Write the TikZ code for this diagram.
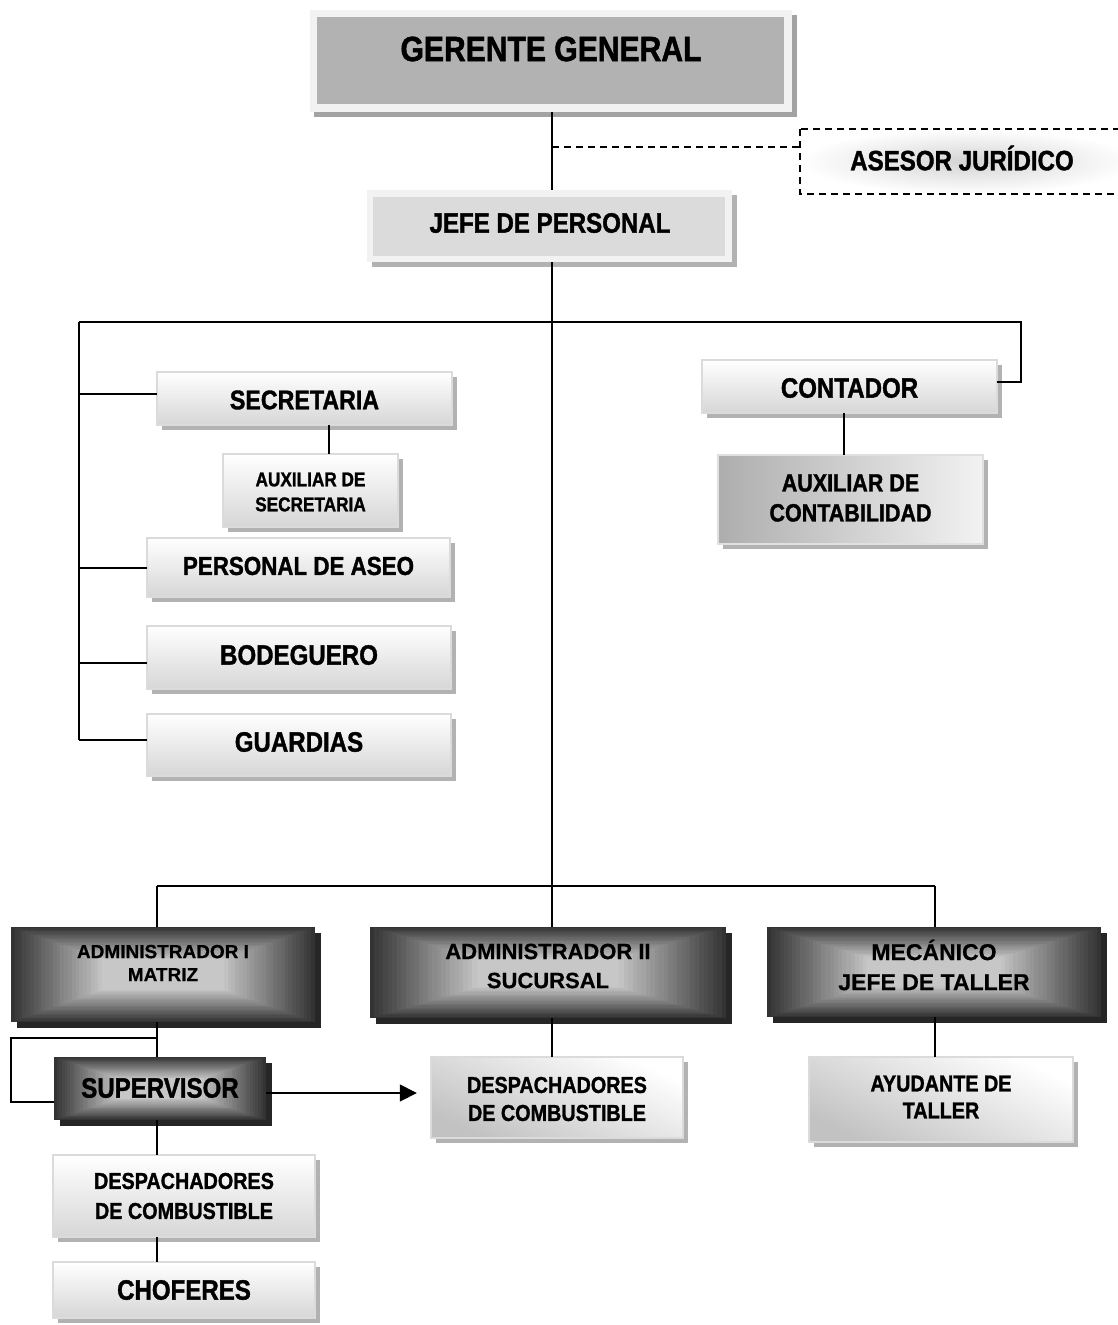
\documentclass[tikz,border=0pt]{standalone}
\usepackage{fontspec}
\newfontfamily\cf{Liberation Sans}[FakeStretch=0.86,BoldFeatures={FakeBold=1.3}]
\newfontfamily\af{Liberation Sans}[BoldFeatures={FakeBold=0.6}]
\usetikzlibrary{arrows.meta,calc}
\newcommand\fc[2]{\cf\bfseries\fontsize{#1}{#2}\selectfont}
\newcommand\fa[2]{\af\bfseries\fontsize{#1}{#2}\selectfont}
\tikzset{
  conn/.style={line width=1.6pt, black},
  dconn/.style={line width=1.6pt, draw=black, dash pattern=on 7pt off 5pt},
  shadowc/.style={fill=black!30},
  dshadowc/.style={fill=black!85},
  lightA/.style={top color=white, bottom color=black!16, draw=black!14, line width=1.5pt},
  lightB/.style={left color=black!32, right color=black!5, draw=black!12, line width=1.5pt},
  lightC/.style={top color=white, bottom color=black!24, shading angle=-25, draw=black!14, line width=1.5pt},
  boxnode/.style={draw=none, inner sep=0pt, rectangle},
  lbl/.style={inner sep=0pt, align=center, text=black},
}
% light box: style, name, x1, y1, x2, y2, text y, font, text
\newcommand\lbox[9]{%
  \fill[shadowc] ({#3+5},{#4+5}) rectangle ({#5+5},{#6+5});
  \path[#1] (#3,#4) rectangle (#5,#6);
  \node[boxnode, minimum width={(#5)-(#3)}, minimum height={(#6)-(#4)}] (#2) at ({(#3+#5)/2},{(#4+#6)/2}) {};
  \node[lbl, font=#8] (#2-t) at ({(#3+#5)/2},#7) {#9};
}
% dark box: name, x1, y1, x2, y2, text y, font, text
\newcommand\dbox[8]{%
  \fill[dshadowc] ({#2+6},{#3+6}) rectangle ({#4+6},{#5+6});
  \foreach \i in {0,...,24}{%
    \pgfmathtruncatemacro\cc{80-2.4*\i}%
    \pgfmathsetmacro\dx{\i/24*0.30*(#4-#2)}%
    \pgfmathsetmacro\dy{\i/24*0.34*(#5-#3)}%
    \fill[black!\cc] ({#2+\dx},{#3+\dy}) rectangle ({#4-\dx},{#5-\dy});
  }
  \node[boxnode, minimum width={(#4)-(#2)}, minimum height={(#5)-(#3)}] (#1) at ({(#2+#4)/2},{(#3+#5)/2}) {};
  \node[lbl, font=#7] (#1-t) at ({(#2+#4)/2},#6) {#8};
}
\begin{document}
\begin{tikzpicture}[x=1pt,y=-1pt]
\useasboundingbox (0,0) rectangle (1118,1325);
\fill[white] (0,0) rectangle (1118,1325);

% Gerente general
\fill[black!36] (314,15) rectangle (797,117);
\fill[black!5] (310,10) rectangle (792,112);
\fill[black!30] (317,17) rectangle (784,104);
\node[boxnode, minimum width=482, minimum height=102] (gg) at (551,61) {};
\node[lbl, font=\fc{35}{42}] (gg-t) at (551,49) {GERENTE GENERAL};

% Asesor juridico
\path[dconn, inner color=black!17, outer color=white] (800,129) rectangle (1135,194);
\node[boxnode, minimum width=335, minimum height=65] (ases) at (967.5,161.5) {};
\node[lbl, font=\fc{28}{34}] (ases-t) at (962,158) {ASESOR JUR\'IDICO};

% Jefe de personal
\fill[black!30] (372,195) rectangle (737,267);
\fill[black!5] (367,190) rectangle (732,262);
\fill[black!14] (373,197) rectangle (725,256);
\node[boxnode, minimum width=365, minimum height=72] (jefe) at (549.5,226) {};
\node[lbl, font=\fc{28}{34}] (jefe-t) at (550,223) {JEFE DE PERSONAL};

% left group
\lbox{lightA}{sec}{157}{372}{452}{425}{400}{\fc{27}{32}}{SECRETARIA}
\lbox{lightA}{auxs}{223}{454}{398}{527}{492}{\fc{20}{25}}{AUXILIAR DE\\SECRETARIA}
\lbox{lightA}{pers}{147}{538}{450}{597}{566}{\fc{26}{32}}{PERSONAL DE ASEO}
\lbox{lightA}{bod}{147}{626}{451}{689}{655}{\fc{28}{34}}{BODEGUERO}
\lbox{lightA}{guar}{147}{714}{451}{776}{742}{\fc{28}{34}}{GUARDIAS}

% right group
\lbox{lightA}{cont}{702}{360}{997}{413}{388}{\fc{28}{34}}{CONTADOR}
\lbox{lightB}{auxc}{718}{455}{983}{544}{498}{\fc{25}{30}}{AUXILIAR DE\\CONTABILIDAD}

% bottom row
\dbox{adm1}{11}{927}{315}{1022}{963}{\fa{19}{23}}{ADMINISTRADOR I\\MATRIZ}
\dbox{adm2}{370}{927}{726}{1018}{966}{\fa{22}{29}}{ADMINISTRADOR II\\SUCURSAL}
\dbox{mec}{767}{927}{1101}{1017}{965}{\fa{23}{30}}{MEC\'ANICO\\JEFE DE TALLER}
\dbox{sup}{54}{1057}{266}{1120}{1088}{\fc{28}{34}}{SUPERVISOR}
\lbox{lightC}{desp2}{431}{1057}{683}{1138}{1099}{\fc{23}{28}}{DESPACHADORES\\DE COMBUSTIBLE}
\lbox{lightC}{ayud}{809}{1057}{1073}{1142}{1097}{\fc{23}{27}}{AYUDANTE DE\\TALLER}
\lbox{lightA}{desp1}{53}{1155}{315}{1237}{1196}{\fc{23}{30}}{DESPACHADORES\\DE COMBUSTIBLE}
\lbox{lightA}{chof}{53}{1262}{315}{1318}{1290}{\fc{28}{34}}{CHOFERES}

% trunk coordinates
\coordinate (TL) at (79,322);
\coordinate (TR) at (1021,322);
\coordinate (T1) at (552,322);
\coordinate (BL) at (157,886);
\coordinate (BR) at (935,886);
\coordinate (DS) at (552,147);
\coordinate (SB) at (157,1038);
\coordinate (SL) at (11,1038);

% connectors
\draw[conn] (T1 |- gg.south) -- (T1 |- jefe.north);
\draw[dconn] (DS) -- (DS -| ases.west);
\draw[conn] (T1 |- jefe.south) -- (T1 |- adm2.north);
\draw[conn] (TL) -- (TR) -- (TR |- 0,382) -- (cont.east |- 0,382);
\draw[conn] (TL) -- (TL |- 0,740);
\draw[conn] (TL |- 0,394) -- (sec.west |- 0,394);
\draw[conn] (TL |- 0,568) -- (pers.west |- 0,568);
\draw[conn] (TL |- 0,663) -- (bod.west |- 0,663);
\draw[conn] (TL |- 0,740) -- (guar.west |- 0,740);
\draw[conn] (329,0 |- sec.south) -- (329,0 |- auxs.north);
\draw[conn] (844,0 |- cont.south) -- (844,0 |- auxc.north);

\draw[conn] (BL) -- (BR);
\draw[conn] (BL) -- (BL |- adm1.north);
\draw[conn] (BR) -- (BR |- mec.north);
\draw[conn] (BL |- adm1.south) -- (BL |- sup.north);
\draw[conn] (SB) -- (SL) -- (SL |- 0,1102) -- (sup.west |- 0,1102);
\draw[conn] (BL |- sup.south) -- (BL |- desp1.north);
\draw[conn] (BL |- desp1.south) -- (BL |- chof.north);
\draw[conn] (T1 |- adm2.south) -- (T1 |- desp2.north);
\draw[conn] (BR |- mec.south) -- (BR |- ayud.north);
\draw[conn, -{Triangle[length=17pt,width=17pt]}, shorten >=14pt] (sup.east |- 0,1093) -- (desp2.west |- 0,1093);
\end{tikzpicture}
\end{document}
